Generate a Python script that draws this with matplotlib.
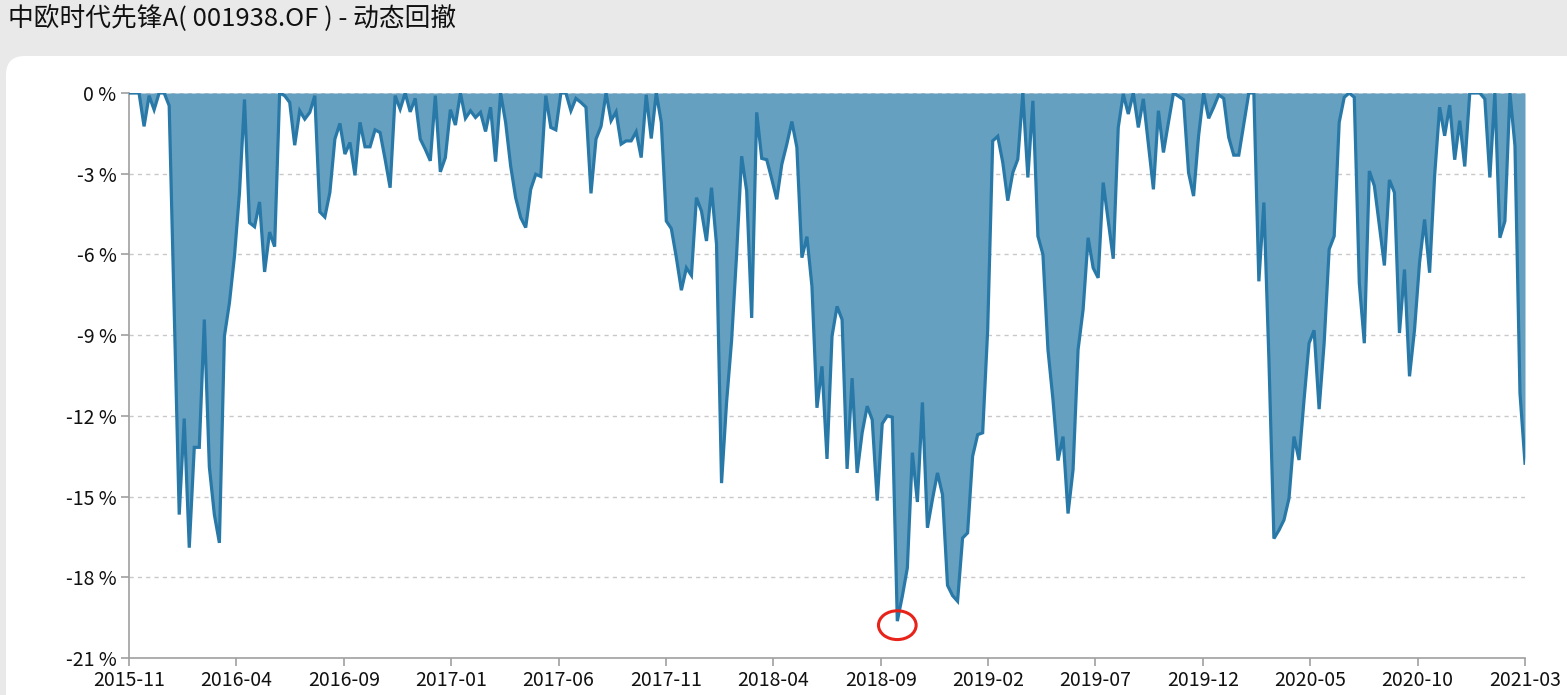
import numpy as np
import matplotlib
matplotlib.use("Agg")
import matplotlib.pyplot as plt
from matplotlib.patches import FancyBboxPatch, Ellipse

plt.rcParams['font.family'] = ['Noto Sans CJK SC', 'DejaVu Sans']

title = "中欧时代先锋A( 001938.OF ) - 动态回撤"

# weekly drawdown in %
drawdown = [
    0, 0, 0, -1.24, -0.1, -0.62, 0, 0, -0.47, -8.0,
    -15.67, -12.1, -16.9, -13.17, -13.17, -8.42, -13.9, -15.67, -16.72, -9.04,
    -7.8, -6.07, -3.71, -0.24, -4.82, -4.97, -4.05, -6.65, -5.17, -5.71,
    0, -0.1, -0.35, -1.94, -0.66, -0.97, -0.72, -0.1, -4.42, -4.61,
    -3.7, -1.71, -1.13, -2.27, -1.84, -3.06, -1.09, -2.0, -2.0, -1.37,
    -1.47, -2.46, -3.52, -0.1, -0.6, 0, -0.7, -0.2, -1.71, -2.09,
    -2.52, -0.1, -2.93, -2.4, -0.62, -1.19, 0,
    -0.94, -0.66, -0.91, -0.72, -1.43, -0.53, -2.55, 0, -1.09, -2.71,
    -3.89, -4.63, -5.0, -3.58, -3.02, -3.1, -0.1, -1.28, -1.37, 0,
    0, -0.66, -0.2, -0.35, -0.53, -3.73, -1.71, -1.24, 0, -1.03,
    -0.7, -1.9, -1.78, -1.78, -1.44, -2.4, -0.07, -1.69, 0, -1.09,
    -4.76, -5.04, -6.12, -7.33, -6.5, -6.78, -3.89, -4.39, -5.5, -3.52,
    -5.63,
    -14.5, -11.5, -9.2, -6.0, -2.35,
    -3.64, -8.36, -0.72, -2.43, -2.48, -3.2, -3.95, -2.65, -1.9, -1.06,
    -2.02, -6.12, -5.34, -7.18,
    -11.7, -10.16, -13.6, -9.04, -7.93, -8.42, -13.97, -10.6, -14.12, -12.63,
    -11.64, -12.14, -15.15, -12.29, -12.0, -12.05, -19.63, -18.7, -17.65, -13.37,
    -15.2, -11.5, -16.16, -15.1, -14.12, -14.93, -18.3, -18.68, -18.89, -16.54,
    -16.35, -13.5, -12.7, -12.63, -8.8, -1.78, -1.61, -2.58, -4.0, -2.96,
    -2.46, 0, -3.14, -0.29, -5.32,
    -6.0, -9.54, -11.4, -13.66, -12.77, -15.63, -14.0, -9.54, -8.05, -5.38,
    -6.5, -6.87, -3.33, -4.76, -6.16, -1.28, -0.04, -0.78, 0, -1.28,
    -0.22, -1.9, -3.58, -0.66, -2.21, -1.09, 0, -0.12, -0.25, -2.96,
    -3.83, -1.59, 0, -0.94, -0.53, -0.07, -0.2, -1.65, -2.31, -2.31,
    -1.16, 0, 0, -7.0, -4.07, -9.9, -16.56, -16.25, -15.87, -15.07,
    -12.77, -13.64,
    -11.4, -9.3, -8.82, -11.75, -9.3, -5.81, -5.32, -1.09, -0.16, 0,
    -0.16, -7.06, -9.3, -2.9, -3.45, -4.94, -6.41, -3.23, -3.7, -8.92,
    -6.56, -10.53, -8.8, -6.31, -4.7, -6.68, -3.08, -0.53, -1.59, -0.45,
    -2.48, -1.03, -2.73, 0, 0, 0, -0.22, -3.14, 0, -5.38,
    -4.76, 0, -1.96, -11.16, -13.76,
]

tick_labels = ["2015-11", "2016-04", "2016-09", "2017-01", "2017-06", "2017-11",
               "2018-04", "2018-09", "2019-02", "2019-07", "2019-12", "2020-05",
               "2020-10", "2021-03"]
y_ticks = [0, -3, -6, -9, -12, -15, -18, -21]

fill_color = "#65a0c0"
line_color = "#2878a8"
axis_color = "#a0a0a0"

fig = plt.figure(figsize=(15.67, 6.95), dpi=100)
fig.patch.set_facecolor("#e9e9e9")

panel = FancyBboxPatch((6 / 1567, -0.05), 1.05, (695 - 56) / 695 + 0.05,
                       boxstyle="round,pad=0,rounding_size=0.012",
                       transform=fig.transFigure, facecolor="white",
                       edgecolor="none", zorder=-10, mutation_aspect=1567 / 695)
fig.patches.append(panel)

fig.text(8 / 1567, 1 - 18 / 695, title, fontsize=18.5, color="#111111",
         va="center", ha="left")

ax = fig.add_axes([129 / 1567, (695 - 658) / 695, (1525 - 129) / 1567, (658 - 93) / 695])
ax.set_facecolor("none")
ax.set_zorder(1)

x = np.arange(len(drawdown))
y = np.array(drawdown)
ax.fill_between(x, y, 0, color=fill_color, linewidth=0, zorder=2)
ax.plot(x, y, color=line_color, linewidth=2.3, solid_joinstyle="miter", zorder=3)

ax.set_xlim(0, len(drawdown) - 1)
ax.set_ylim(-21, 0)

ax.set_yticks(y_ticks)
ax.set_yticklabels([f"{v} %" for v in y_ticks])
ax.set_xticks(np.linspace(0, len(drawdown) - 1, len(tick_labels)))
ax.set_xticklabels(tick_labels)

for v in y_ticks[:-1]:
    ax.axhline(v, color="#c8c8c8", linewidth=1, linestyle=(0, (3, 3)), zorder=1)

for side in ["top", "right"]:
    ax.spines[side].set_visible(False)
for side in ["left", "bottom"]:
    ax.spines[side].set_color(axis_color)
    ax.spines[side].set_linewidth(1.2)

ax.tick_params(axis="both", colors=axis_color, labelcolor="#111111",
               labelsize=14, length=6, width=1.2)
ax.tick_params(axis="x", pad=2.5)
ax.tick_params(axis="y", pad=3)

# red circle around the deepest point
imin = int(np.argmin(y))
ax.add_patch(Ellipse((imin, y[imin] - 0.15), 7.5, 1.07, fill=False,
                     edgecolor="#e8231a", linewidth=2.2, zorder=4))

fig.savefig("out.png", dpi=100, facecolor=fig.get_facecolor())
